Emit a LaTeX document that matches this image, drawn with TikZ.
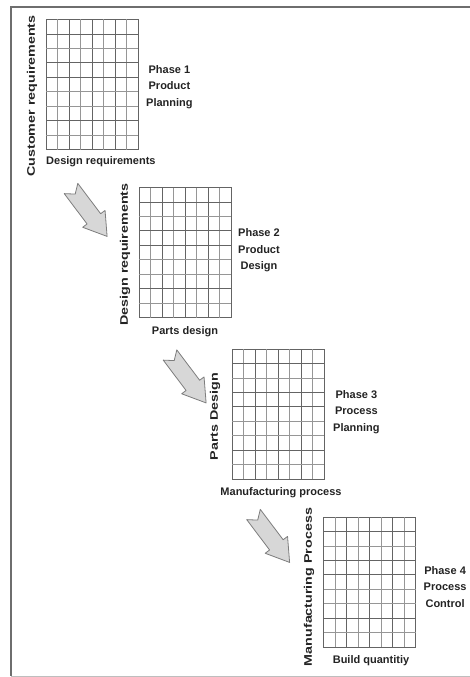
\documentclass[tikz,border=0pt]{standalone}
\usepackage{fontspec}
\setmainfont{Liberation Sans}
\usetikzlibrary{calc}
\definecolor{ink}{RGB}{35,35,35}
\definecolor{gridline}{RGB}{150,150,150}
\definecolor{griddark}{RGB}{100,100,100}
\definecolor{arrowfill}{RGB}{215,215,215}
\definecolor{arrowline}{RGB}{125,125,125}
\definecolor{framedark}{RGB}{110,110,110}
\definecolor{framelight}{RGB}{190,190,190}
\newcommand\phfont{\fontsize{11}{16.5}\selectfont\bfseries}
% inner lines of a 8 x 9 matrix drawn inside node #1
\newcommand\matrixlines[1]{%
  \foreach \i/\s in {1/gl,2/gd,3/gl,4/gd,5/gl,6/gd,7/gl}
    \draw[\s] ($(#1.north west)!\i/8!(#1.north east)$) -- ($(#1.south west)!\i/8!(#1.south east)$);
  \foreach \j/\s in {1/gd,2/gl,3/gd,4/gd,5/gl,6/gl,7/gd,8/gl}
    \draw[\s] ($(#1.north west)!\j/9!(#1.south west)$) -- ($(#1.north east)!\j/9!(#1.south east)$);
}
% notched block arrow with its tail centre at #1
\newcommand\blockarrow[1]{%
  \begin{scope}[shift={#1}, rotate=-53]
    \draw[arrowshape] (0,8.5) -- (38,8.5) -- (38,14) -- (60,0) -- (38,-14)
      -- (38,-8.5) -- (0,-8.5) -- (7,0) -- cycle;
  \end{scope}
}
\begin{document}
\begin{tikzpicture}[x=1pt, y=-1pt,
  gridbox/.style={draw=griddark, line width=0.9pt, minimum width=92pt,
    minimum height=130pt, inner sep=0pt, outer sep=0pt},
  gl/.style={draw=gridline, line width=0.7pt},
  gd/.style={draw=griddark, line width=0.8pt},
  phase/.style={align=center, anchor=west, font=\phfont, text=ink, inner sep=0pt},
  xlabel/.style={font=\phfont, text=ink, inner sep=0pt},
  ylabel/.style={font=\phfont, text=ink, inner sep=0pt, rotate=90},
  arrowshape/.style={fill=arrowfill, draw=arrowline, line width=0.8pt, line join=round}]

\useasboundingbox (0,0) rectangle (470,677);

% frame
\draw[framelight, line width=1pt] (11,676) -- (470,676);
\draw[framedark, line width=1.6pt] (469.5,7) -- (11,7) -- (11,676);

% the four matrices
\node[gridbox] (g1) at (92,84.5) {};
\node[gridbox] (g2) at (185,252.5) {};
\node[gridbox] (g3) at (278,414) {};
\node[gridbox] (g4) at (369.5,582) {};
\matrixlines{g1}
\matrixlines{g2}
\matrixlines{g3}
\matrixlines{g4}

% phase names
\node[phase] (p1) at ($(g1.east)+(8,2.5)$) {Phase 1\\Product\\Planning};
\node[phase] (p2) at ($(g2.east)+(7,-2)$) {Phase 2\\Product\\Design};
\node[phase] (p3) at ($(g3.east)+(9,-2)$) {Phase 3\\Process\\Planning};
\node[phase] (p4) at ($(g4.east)+(8,5)$) {Phase 4\\Process\\Control};

% row labels
\node[ylabel] (r1) at (32,96) {\scalebox{1.3}[1]{Customer requirements}};
\node[ylabel] (r2) at (125,254.5) {\scalebox{1.3}[1]{Design requirements}};
\node[ylabel] (r3) at (215,416.5) {\scalebox{1.3}[1]{Parts Design}};
\node[ylabel] (r4) at (309,587) {\scalebox{1.3}[1]{Manufacturing Process}};

% column labels
\node[xlabel, anchor=west] (c1) at (46,162) {Design requirements};
\node[xlabel] (c2) at (185,332) {Parts design};
\node[xlabel] (c3) at (281,493) {Manufacturing process};
\node[xlabel] (c4) at (371,661) {Build quantitiy};

% arrows between phases
\blockarrow{(71,188.5)}
\blockarrow{(170,355)}
\blockarrow{(253.5,514.5)}

\end{tikzpicture}
\end{document}
